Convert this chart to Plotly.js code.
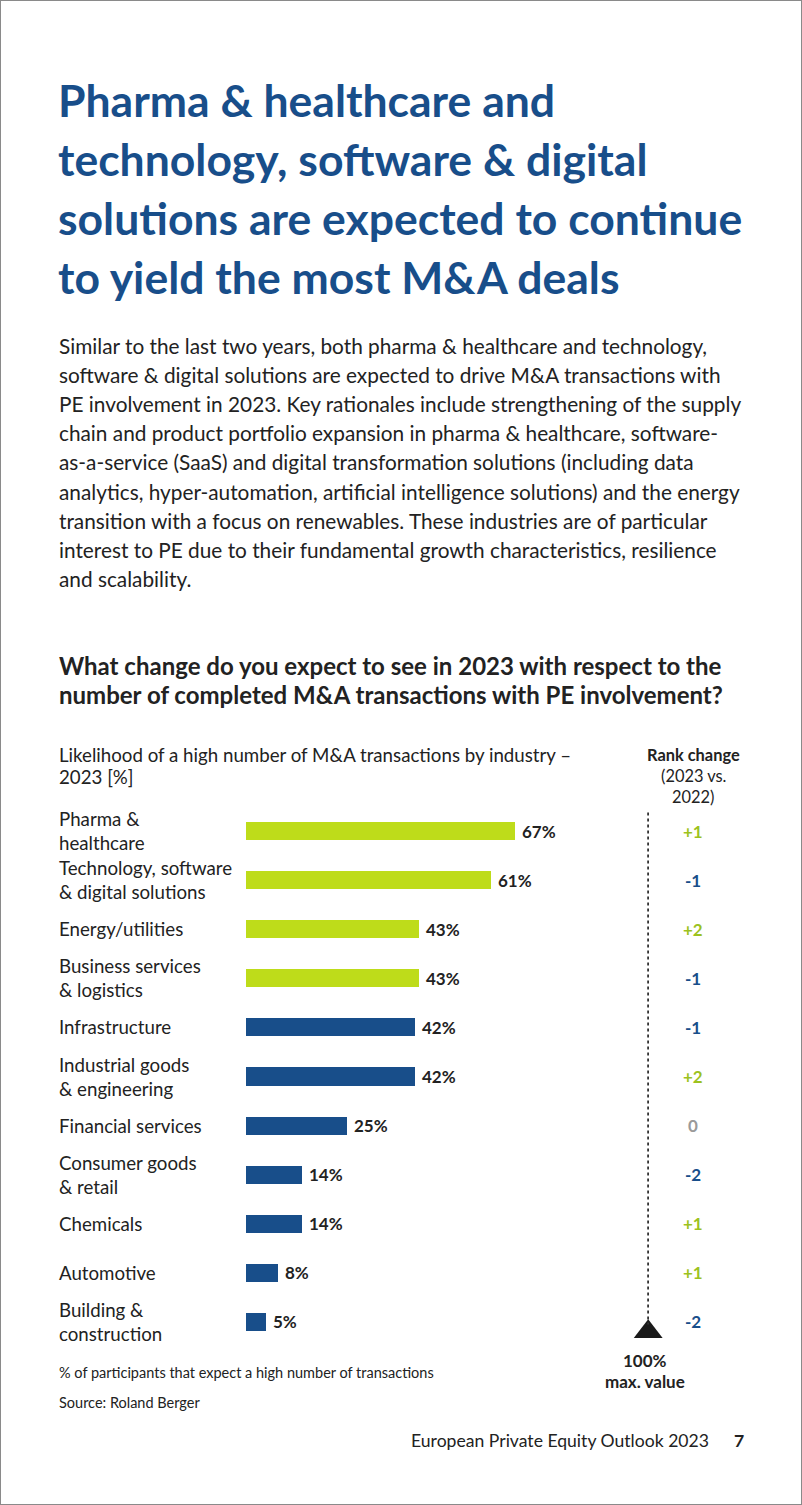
<!DOCTYPE html>
<html>
<head>
<meta charset="utf-8">
<script src="https://cdn.plot.ly/plotly-3.0.1.min.js"></script>
<style>
html,body{margin:0;padding:0;background:#fff;}
#chart{width:802px;height:1505px;}
</style>
</head>
<body>
<div id="chart"></div>
<script>
// ---- data ----
const categories = [
  "Pharma &<br>healthcare",
  "Technology, software<br>& digital solutions",
  "Energy/utilities",
  "Business services<br>& logistics",
  "Infrastructure",
  "Industrial goods<br>& engineering",
  "Financial services",
  "Consumer goods<br>& retail",
  "Chemicals",
  "Automotive",
  "Building &<br>construction"
];
const values = [67, 61, 43, 43, 42, 42, 25, 14, 14, 8, 5];
const highlight = [true, true, true, true, false, false, false, false, false, false, false];
const rankChange = ["+1", "-1", "+2", "-1", "-1", "+2", "0", "-2", "+1", "+1", "-2"];
const maxValue = 100;

const titleLines = [
  "Pharma &amp; healthcare and",
  "technology, software &amp; digital",
  "solutions are expected to continue",
  "to yield the most M&amp;A deals"
];
const paragraphLines = [
  "Similar to the last two years, both pharma &amp; healthcare and technology,",
  "software &amp; digital solutions are expected to drive M&amp;A transactions with",
  "PE involvement in 2023. Key rationales include strengthening of the supply",
  "chain and product portfolio expansion in pharma &amp; healthcare, software-",
  "as-a-service (SaaS) and digital transformation solutions (including data",
  "analytics, hyper-automation, artificial intelligence solutions) and the energy",
  "transition with a focus on renewables. These industries are of particular",
  "interest to PE due to their fundamental growth characteristics, resilience",
  "and scalability."
];
const questionLines = [
  "What change do you expect to see in 2023 with respect to the",
  "number of completed M&amp;A transactions with PE involvement?"
];

// ---- styling ----
const W = 802, H = 1505;
const FONT = "Lato, 'Noto Sans', sans-serif";
const BLUE = "#184e8a";
const GREEN = "#bedc1a";
const GREEN_TXT = "#9cc21e";
const TXT = "#222222";
const px = x => x / W;
const py = y => 1 - y / H;

const idx = categories.map((c, i) => i);
const annotations = [];

function addText(text, x, y, size, opts) {
  opts = opts || {};
  annotations.push(Object.assign({
    text: text, xref: "paper", yref: "paper", x: px(x), y: py(y),
    xanchor: "left", yanchor: "middle", align: "left", showarrow: false,
    font: {family: FONT, size: size, color: TXT}
  }, opts));
}

titleLines.forEach((t, i) => addText("<b>" + t + "</b>", 56, 100 + i * 58.7, 44.5, {font: {family: FONT, size: 44.5, color: BLUE}}));
paragraphLines.forEach((t, i) => addText(t, 57, 345 + i * 29.2, 20.8));
questionLines.forEach((t, i) => addText("<b>" + t + "</b>", 57, 665 + i * 29.5, 24));
addText("Likelihood of a high number of M&amp;A transactions by industry –", 57, 755, 18.7);
addText("2023 [%]", 57, 777, 18.7);
addText("<b>Rank change</b>", 693, 755, 16.4, {xanchor: "center"});
addText("(2023 vs.", 693, 775, 16.4, {xanchor: "center"});
addText("2022)", 693, 796, 16.4, {xanchor: "center"});
addText("<b>100%</b>", 645, 1360, 17, {xanchor: "center"});
addText("<b>max. value</b>", 645, 1381, 17, {xanchor: "center"});
addText("% of participants that expect a high number of transactions", 57, 1372, 14.5);
addText("Source: Roland Berger", 57, 1402, 14.5);
addText("European Private Equity Outlook 2023", 711, 1440, 17.6, {xanchor: "right"});
addText("<b>7</b>", 732, 1440, 17.6);

categories.forEach((c, i) => {
  annotations.push({
    text: c, xref: "paper", yref: "y", x: px(57), y: i,
    xanchor: "left", yanchor: "middle", align: "left", showarrow: false,
    font: {family: FONT, size: 18.7, color: TXT}
  });
  annotations.push({
    text: "<b>" + values[i] + "%</b>", xref: "x", yref: "y", x: values[i], y: i,
    xanchor: "left", yanchor: "middle", xshift: 5, showarrow: false,
    font: {family: FONT, size: 17, color: TXT}
  });
  const r = rankChange[i];
  const col = r.startsWith("+") ? GREEN_TXT : (r.startsWith("-") ? BLUE : "#9a9a9a");
  annotations.push({
    text: "<b>" + r + "</b>", xref: "paper", yref: "y", x: px(693), y: i,
    xanchor: "center", yanchor: "middle", showarrow: false,
    font: {family: FONT, size: 17, color: col}
  });
});

const bars = {
  type: "bar", orientation: "h",
  x: values, y: idx, width: 0.37,
  marker: {color: highlight.map(h => h ? GREEN : BLUE), line: {width: 0}},
  hoverinfo: "skip", showlegend: false
};
const nLast = categories.length - 1;
const tri = {
  type: "scatter", mode: "markers", x: [maxValue], y: [nLast + 0.2],
  marker: {symbol: "triangle-up", size: 25, color: "#1a1a1a"},
  hoverinfo: "skip", showlegend: false, cliponaxis: false
};

const layout = {
  width: W, height: H,
  margin: {l: 0, r: 0, t: 0, b: 0},
  paper_bgcolor: "#fff", plot_bgcolor: "rgba(0,0,0,0)",
  xaxis: {domain: [px(246), px(649)], range: [0, 100.2], showgrid: false, zeroline: false,
          showticklabels: false, ticks: "", showline: false, fixedrange: true},
  yaxis: {domain: [py(1346.5), py(806.5)], range: [nLast + 0.5, -0.5], showgrid: false, zeroline: false,
          showticklabels: false, ticks: "", showline: false, fixedrange: true},
  bargap: 0,
  annotations: annotations,
  shapes: [
    {type: "line", xref: "x", yref: "y", x0: maxValue, x1: maxValue, y0: -0.38, y1: nLast + 0.05,
     line: {color: "#333", width: 2, dash: "dot"}},
    {type: "rect", xref: "paper", yref: "paper", x0: 0, x1: 1, y0: 0, y1: 1,
     line: {color: "#8a8a8a", width: 2}}
  ]
};

Plotly.newPlot("chart", [bars, tri], layout, {displayModeBar: false, staticPlot: true});
</script>
</body>
</html>
